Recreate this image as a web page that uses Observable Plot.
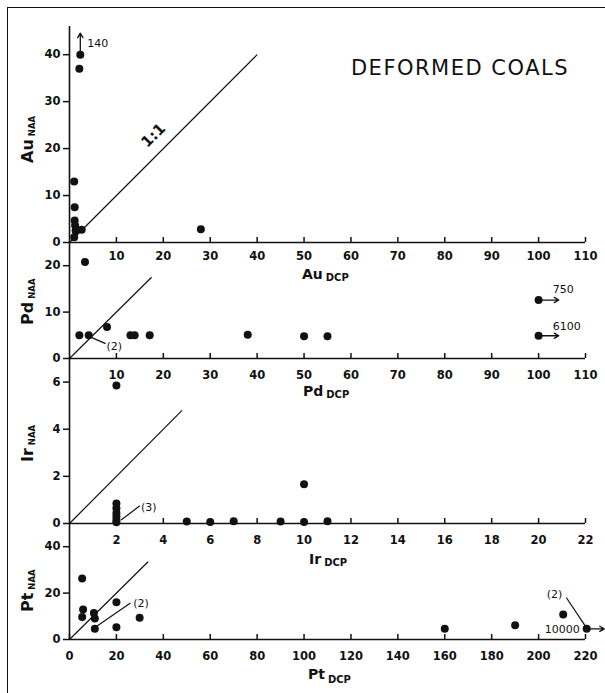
<!DOCTYPE html>
<html>
<head>
<meta charset="utf-8">
<script src="https://cdn.jsdelivr.net/npm/d3@7"></script>
<script src="https://cdn.jsdelivr.net/npm/@observablehq/plot@0.6"></script>
<style>
  body { margin: 0; background: #fff; }
  #fig { position: relative; width: 605px; height: 693px; overflow: hidden; background: #fff; }
  #frame { position: absolute; left: 7px; top: 7px; width: 600px; height: 700px;
           border-top: 1.5px solid #111; border-left: 1.5px solid #111; }
  #fig svg { position: absolute; left: 0; top: 0; }
</style>
</head>
<body>
<div id="fig"><div id="frame"></div></div>
<script>
// ---------------- data ----------------
const title = "DEFORMED COALS";

// Au panel
const auDCP = [2.3, 2.1, 1.0, 1.1, 1.1, 1.2, 1.3, 1.0, 2.6, 28];
const auNAA = [40, 37, 13, 7.5, 4.7, 3.6, 2.5, 1.1, 2.7, 2.8];
const auXTicks = [10, 20, 30, 40, 50, 60, 70, 80, 90, 100, 110];
const auYTicks = [0, 10, 20, 30, 40];
const auLines = [{x1: 0, y1: 0, x2: 40, y2: 40}];
const auArrows = [{x1: 2.3, y1: 40, x2: 2.3, y2: 44.6}];
const auNotes = [{x: 3.8, y: 42.4, t: "140", a: "start"}];
const auOneToOne = [{x: 17.9, y: 22.8, t: "1:1"}];

// Pd panel
const pdDCP = [3.3, 2.1, 4.1, 8.0, 13.0, 13.9, 17.1, 38, 50, 55, 100, 100];
const pdNAA = [20.8, 5, 5, 6.8, 5, 5, 5, 5.1, 4.8, 4.8, 12.6, 4.9];
const pdXTicks = [10, 20, 30, 40, 50, 60, 70, 80, 90, 100, 110];
const pdYTicks = [0, 10, 20];
const pdLines = [{x1: 0, y1: 0, x2: 17.5, y2: 17.5}, {x1: 4.5, y1: 4.6, x2: 7.7, y2: 3.2}];
const pdArrows = [{x1: 100, y1: 12.6, x2: 104.3, y2: 12.6}, {x1: 100, y1: 4.9, x2: 104.3, y2: 4.9}];
const pdNotes = [{x: 7.9, y: 2.6, t: "(2)", a: "start"}, {x: 103, y: 14.8, t: "750", a: "start"},
                 {x: 103, y: 7.0, t: "6100", a: "start"}];

// Ir panel
const irDCP = [2, 2, 2, 2, 2, 2, 2, 5, 6, 7, 9, 10, 10, 11];
const irNAA = [5.85, 0.85, 0.65, 0.45, 0.3, 0.15, 0.05, 0.08, 0.06, 0.1, 0.08, 1.66, 0.06, 0.1];
const irXTicks = [2, 4, 6, 8, 10, 12, 14, 16, 18, 20, 22];
const irYTicks = [0, 2, 4, 6];
const irLines = [{x1: 0, y1: 0, x2: 4.8, y2: 4.8}, {x1: 2.2, y1: 0.15, x2: 3.0, y2: 0.75}];
const irNotes = [{x: 3.05, y: 0.7, t: "(3)", a: "start"}];

// Pt panel
const ptDCP = [5.4, 5.8, 5.4, 10.4, 10.8, 10.8, 20, 20, 29.9, 160, 190, 210.5, 220.5];
const ptNAA = [26.3, 12.9, 9.7, 11.4, 9.0, 4.6, 16.1, 5.3, 9.4, 4.6, 6.1, 10.8, 4.6];
const ptXTicks = [0, 20, 40, 60, 80, 100, 120, 140, 160, 180, 200, 220];
const ptYTicks = [0, 20, 40];
const ptLines = [{x1: 0, y1: 0, x2: 33.5, y2: 33.5}, {x1: 11, y1: 5.3, x2: 26, y2: 15.7},
                 {x1: 211.8, y1: 18.1, x2: 220.3, y2: 5.2}];
const ptArrows = [{x1: 220.5, y1: 4.6, x2: 228, y2: 4.6}];
const ptNotes = [{x: 27.2, y: 15.7, t: "(2)", a: "start"}, {x: 206.8, y: 19.4, t: "(2)", a: "middle"},
                 {x: 217.6, y: 4.3, t: "10000", a: "end"}];

// ---------------- drawing ----------------
const W = 605, H = 693;
const fig = document.getElementById("fig");
const font = "DejaVu Sans";

function noteMarks(notes) {
  return ["start", "middle", "end"].map(a =>
    Plot.text(notes.filter(d => d.a === a), {x: "x", y: "y", text: "t", textAnchor: a, fontSize: 11, fontWeight: "normal", fill: "#111"}));
}

function panel({top, bottom, xDomain, yDomain, xTicks, yTicks, xPad, xs, ys, lines, arrows = [], notes = [], extra = []}) {
  const pts = xs.map((x, i) => ({x, y: ys[i]}));
  const bandH = bottom - top;
  const svg = Plot.plot({
    width: W, height: H,
    marginLeft: 69, marginRight: 20, marginTop: top, marginBottom: H - bottom,
    x: {domain: xDomain},
    y: {domain: yDomain},
    style: {fontFamily: font, fontSize: "11.5px", fontWeight: "bold", background: "transparent", overflow: "visible", color: "#111"},
    marks: [
      Plot.ruleY([0], {strokeWidth: 1.6}),
      Plot.ruleX([0], {strokeWidth: 1.6}),
      Plot.tickX(xTicks, {x: d => d, insetTop: bandH - 5, strokeWidth: 1.5}),
      Plot.axisX(xTicks, {tickSize: 0, tickPadding: xPad, label: null}),
      Plot.axisY(yTicks, {tickSize: 6, tickPadding: 3, strokeWidth: 1.5, label: null}),
      Plot.link(lines, {x1: "x1", y1: "y1", x2: "x2", y2: "y2", strokeWidth: 1.2}),
      Plot.arrow(arrows, {x1: "x1", y1: "y1", x2: "x2", y2: "y2", strokeWidth: 1.3, headLength: 6}),
      Plot.dot(pts, {x: "x", y: "y", r: 4, fill: "#111", stroke: "none"}),
      ...noteMarks(notes),
      ...extra
    ]
  });
  fig.appendChild(svg);
  return svg;
}

function label(svg, {x, y, main, sub, rot = false, size = 14, subSize = 10, subDy = 2}) {
  const t = d3.select(svg).append("text")
    .attr("transform", `translate(${x},${y})` + (rot ? " rotate(-90)" : ""))
    .attr("text-anchor", "start").attr("font-weight", "bold")
    .attr("font-family", font).attr("font-size", size).attr("fill", "#111");
  t.append("tspan").text(main);
  t.append("tspan").attr("dx", 3).attr("dy", subDy).attr("font-size", subSize).text(sub);
}

const sAu = panel({top: 26, bottom: 242, xDomain: [0, 110], yDomain: [0, 46], xTicks: auXTicks, yTicks: auYTicks,
  xPad: 9, xs: auDCP, ys: auNAA, lines: auLines, arrows: auArrows, notes: auNotes,
  extra: [Plot.text(auOneToOne, {x: "x", y: "y", text: "t", rotate: -45, fontSize: 15, fontWeight: "bold"})]});
const sPd = panel({top: 242, bottom: 358, xDomain: [0, 110], yDomain: [0, 25], xTicks: pdXTicks, yTicks: pdYTicks,
  xPad: 12, xs: pdDCP, ys: pdNAA, lines: pdLines, arrows: pdArrows, notes: pdNotes});
const sIr = panel({top: 358, bottom: 523, xDomain: [0, 22], yDomain: [0, 7], xTicks: irXTicks, yTicks: irYTicks,
  xPad: 12, xs: irDCP, ys: irNAA, lines: irLines, notes: irNotes});
const sPt = panel({top: 523, bottom: 639, xDomain: [0, 220], yDomain: [0, 50], xTicks: ptXTicks, yTicks: ptYTicks,
  xPad: 12, xs: ptDCP, ys: ptNAA, lines: ptLines, arrows: ptArrows, notes: ptNotes});

// title
d3.select(sAu).append("text").attr("x", 460).attr("y", 75).attr("text-anchor", "middle")
  .attr("font-family", font).attr("font-size", 21).attr("font-weight", "normal")
  .attr("letter-spacing", 1.5).attr("fill", "#111")
  .text(title);

// axis titles
label(sAu, {x: 302, y: 279, main: "Au", sub: "DCP"});
label(sPd, {x: 303, y: 396, main: "Pd", sub: "DCP"});
label(sIr, {x: 309, y: 564, main: "Ir", sub: "DCP"});
label(sPt, {x: 308, y: 679, main: "Pt", sub: "DCP", subDy: 4});
label(sAu, {x: 33, y: 163, main: "Au", sub: "NAA", rot: true, size: 16, subSize: 8.5});
label(sPd, {x: 33, y: 325, main: "Pd", sub: "NAA", rot: true, size: 16, subSize: 8.5});
label(sIr, {x: 33, y: 462, main: "Ir", sub: "NAA", rot: true, size: 16, subSize: 8.5});
label(sPt, {x: 33, y: 612, main: "Pt", sub: "NAA", rot: true, size: 16, subSize: 8.5});
</script>
</body>
</html>
